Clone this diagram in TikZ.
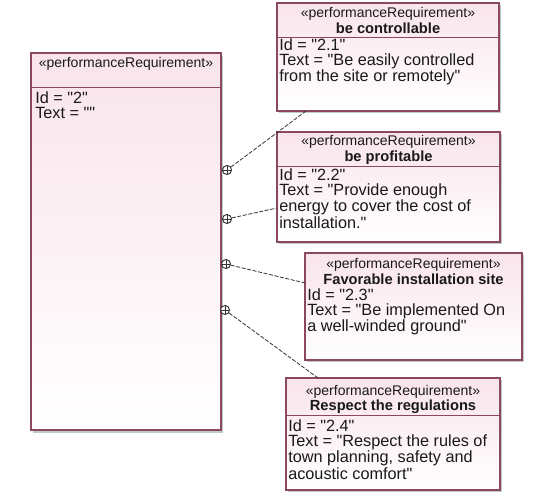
\documentclass[tikz,border=0pt]{standalone}
\usepackage{fontspec}
\setmainfont{Liberation Sans}[Ligatures=TeXOff]
\definecolor{reqborder}{RGB}{140,72,92}
\definecolor{reqpink}{RGB}{249,228,236}
\definecolor{reqshadow}{RGB}{188,204,198}
\definecolor{conncol}{RGB}{50,50,50}
\definecolor{txtcol}{RGB}{25,25,25}
\tikzset{
  reqbox/.style={draw=reqborder, line width=0.9pt, top color=reqpink, bottom color=white, inner sep=0pt, rectangle},
  shadowbox/.style={fill=reqshadow, inner sep=0pt, rectangle},
  divider/.style={draw=reqborder, line width=0.7pt},
  stereo/.style={font=\fontsize{10.5}{12}\selectfont, text=txtcol, anchor=base, inner sep=0pt},
  titletxt/.style={font=\fontsize{11}{13}\selectfont\bfseries, text=txtcol, anchor=base, inner sep=0pt},
  bodytxt/.style={font=\fontsize{12.2}{11.2}\selectfont, text=txtcol, anchor=north west, inner sep=0pt, align=left},
  contain/.style={circle, draw=conncol, line width=0.7pt, fill=white, minimum size=6.8pt, inner sep=0pt,
    path picture={\draw[conncol, line width=0.6pt] (path picture bounding box.north) -- (path picture bounding box.south)
      (path picture bounding box.west) -- (path picture bounding box.east);}},
  conn/.style={draw=conncol, line width=0.6pt, dash pattern=on 3pt off 1.2pt}
}
\begin{document}
\begin{tikzpicture}[x=0.75pt, y=-0.75pt]
\useasboundingbox (0,0) rectangle (546,500);
% shadows
\node[shadowbox, minimum width=142.5pt, minimum height=282.75pt] (mainsh) at (128,244) {};
\node[shadowbox, minimum width=166.5pt, minimum height=81pt] (b1sh) at (390,59) {};
\node[shadowbox, minimum width=167.25pt, minimum height=82.5pt] (b2sh) at (390.5,189) {};
\node[shadowbox, minimum width=162.75pt, minimum height=80.25pt] (b3sh) at (415.5,308.5) {};
\node[shadowbox, minimum width=160.5pt, minimum height=84pt] (b4sh) at (395,436) {};
% boxes
\node[reqbox, minimum width=142.5pt, minimum height=282.75pt] (main) at (126,241.5) {};
\node[reqbox, minimum width=166.5pt, minimum height=81pt] (b1) at (388,57) {};
\node[reqbox, minimum width=167.25pt, minimum height=82.5pt] (b2) at (388.5,187) {};
\node[reqbox, minimum width=162.75pt, minimum height=80.25pt] (b3) at (413.5,306.5) {};
\node[reqbox, minimum width=160.5pt, minimum height=84pt] (b4) at (393,434) {};
% dividers
\draw[divider] (main.west |- 0,87) -- (main.east |- 0,87);
\draw[divider] (b1.west |- 0,37) -- (b1.east |- 0,37);
\draw[divider] (b2.west |- 0,166) -- (b2.east |- 0,166);
\draw[divider] (b4.west |- 0,415) -- (b4.east |- 0,415);
% main box text
\node[stereo] (mst) at (126,67) {«performanceRequirement»};
\node[bodytxt] (mbody) at (35,91.5) {Id = "2"\\Text = ""};
% box 1
\node[stereo] (s1) at (388,17) {«performanceRequirement»};
\node[titletxt] (t1) at (388,33) {be controllable};
\node[bodytxt] (body1) at (279,38.5) {Id = "2.1"\\Text = "Be easily controlled\\from the site or remotely"};
% box 2
\node[stereo] (s2) at (388.5,145) {«performanceRequirement»};
\node[titletxt] (t2) at (388.5,161) {be profitable};
\node[bodytxt] (body2) at (279,168.5) {Id = "2.2"\\Text = "Provide enough\\energy to cover the cost of\\installation."};
% box 3
\node[stereo] (s3) at (413.5,268) {«performanceRequirement»};
\node[titletxt] (t3) at (413.5,284) {Favorable installation site};
\node[bodytxt] (body3) at (307,288.5) {Id = "2.3"\\Text = "Be implemented On\\a well-winded ground"};
% box 4
\node[stereo] (s4) at (393,395) {«performanceRequirement»};
\node[titletxt] (t4) at (393,410) {Respect the regulations};
\node[bodytxt] (body4) at (288,419.5) {Id = "2.4"\\Text = "Respect the rules of\\town planning, safety and\\acoustic comfort"};
% containment connectors
\node[contain] (k1) at (227,170) {};
\node[contain] (k2) at (227,219) {};
\node[contain] (k3) at (226,264) {};
\node[contain] (k4) at (225,310) {};
\coordinate (e1) at (306,111);
\coordinate (e2) at (277,208);
\coordinate (e3) at (305,283);
\coordinate (e4) at (318,378);
\draw[conn] (k1) -- (e1);
\draw[conn] (k2) -- (e2);
\draw[conn] (k3) -- (e3);
\draw[conn] (k4) -- (e4);
\end{tikzpicture}
\end{document}
